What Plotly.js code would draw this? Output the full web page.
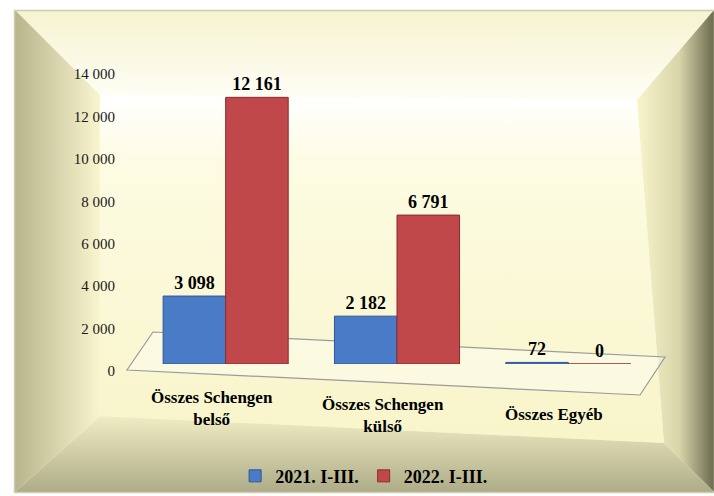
<!DOCTYPE html>
<html><head><meta charset="utf-8">
<script src="https://cdn.plot.ly/plotly-3.0.1.min.js"></script>
<style>
html,body{margin:0;padding:0;background:#fff;}
#wrap{position:relative;width:714px;height:496px;overflow:hidden;}
#bg{position:absolute;left:0;top:0;}
#chart{position:absolute;left:0;top:0;width:714px;height:496px;}
</style>
</head><body>
<div id="wrap">
<svg id="bg" width="714" height="496" xmlns="http://www.w3.org/2000/svg">
<defs>
 <linearGradient id="gL" x1="0" y1="0" x2="1" y2="0"><stop offset="0" stop-color="#b8b48b"/><stop offset="1" stop-color="#f8f5cf"/></linearGradient>
 <linearGradient id="gR" x1="0" y1="0" x2="1" y2="0"><stop offset="0" stop-color="#f8f5cc"/><stop offset="0.55" stop-color="#d8d5aa"/><stop offset="1" stop-color="#6c6a50"/></linearGradient>
 <linearGradient id="gT" x1="0" y1="0" x2="0" y2="1"><stop offset="0" stop-color="#f6f3d0"/><stop offset="1" stop-color="#fffef6"/></linearGradient>
 <linearGradient id="gB" x1="0" y1="0" x2="0" y2="1"><stop offset="0" stop-color="#f0edc4"/><stop offset="1" stop-color="#aeac88"/></linearGradient>
 <linearGradient id="gI" x1="0" y1="0" x2="0" y2="1"><stop offset="0" stop-color="#ffffff"/><stop offset="0.2" stop-color="#fdfbe2"/><stop offset="1" stop-color="#f8f5ca"/></linearGradient>
</defs>
<polygon points="100,95 637,100 664,443 100,416" fill="url(#gI)"/>
<polygon points="15,10 714,10 637,100 100,95" fill="url(#gT)"/>
<polygon points="15,10 100,95 100,416 15,492" fill="url(#gL)"/>
<polygon points="714,10 714,492 664,443 637,100" fill="url(#gR)"/>
<polygon points="15,492 100,416 664,443 714,492" fill="url(#gB)"/>
<rect x="14.5" y="10.5" width="700" height="482" fill="none" stroke="#cfccb0" stroke-width="1.5"/>
<polygon points="153,332 665,357 640,395 127,370" fill="rgba(255,255,255,0.35)" stroke="#9b9b9b" stroke-width="1.2"/>
</svg>
<div id="chart"></div>
</div>
<script>
// ---- data ----
const categories = ["Összes Schengen belső", "Összes Schengen külső", "Összes Egyéb"];
const seriesNames = ["2021. I-III.", "2022. I-III."];
const values2021 = [3098, 2182, 72];
const values2022 = [12161, 6791, 0];
const yTickVals = [0, 2000, 4000, 6000, 8000, 10000, 12000, 14000];

// ---- styling ----
const serif = "'Liberation Serif', 'Times New Roman', serif";
const colors = ["#4a7bc6", "#c0484a"];
const lineColors = ["#2f5597", "#8c2a2a"];
const labelYShift = [-37, -44, -43];

function wrap(label) {
  const i = label.lastIndexOf(" ");
  return label.startsWith("Összes Schengen") ? label.slice(0, i) + "<br>" + label.slice(i + 1) : label;
}

const mk = (name, vals, k) => ({
  type: "bar", name: name, x: categories, y: vals, yaxis: "y",
  marker: {color: colors[k], line: {color: lineColors[k], width: 1}},
  text: vals, texttemplate: "%{y:,d}", textposition: "outside",
  textfont: {family: serif, size: 18, color: "#000", weight: "bold"},
  cliponaxis: false, hoverinfo: "skip"
});

const traces = [
  mk(seriesNames[0], values2021, 0),
  mk(seriesNames[1], values2022, 1),
  {type: "scatter", mode: "markers", x: categories, y: values2022, yaxis: "y2",
   marker: {opacity: 0}, showlegend: false, hoverinfo: "skip"}
];

const annotations = categories.map((c, i) => ({
  x: c, xref: "x", y: 0, yref: "paper", yanchor: "middle", xanchor: "center",
  xshift: -14, yshift: labelYShift[i], showarrow: false,
  text: "<b>" + wrap(c) + "</b>", align: "center",
  font: {family: serif, size: 17, color: "#000"}
}));

const layout = {
  width: 714, height: 496,
  margin: {l: 140, r: 60, t: 57, b: 125, autoexpand: false},
  paper_bgcolor: "rgba(0,0,0,0)", plot_bgcolor: "rgba(0,0,0,0)",
  separators: ", ",
  barmode: "group", bargap: 0.27, bargroupgap: 0,
  showlegend: true,
  legend: {orientation: "h", xref: "container", yref: "container",
           x: 0.51, xanchor: "center", y: 0.04, yanchor: "middle",
           font: {family: serif, size: 18, color: "#000", weight: "bold"},
           bgcolor: "rgba(0,0,0,0)", itemclick: false},
  xaxis: {type: "category", showticklabels: false, showgrid: false, zeroline: false,
          showline: false, ticks: "", anchor: "y", fixedrange: true},
  yaxis: {domain: [0.0223, 1], range: [0, 14000], visible: false, showgrid: false,
          zeroline: false, fixedrange: true},
  yaxis2: {domain: [0, 0.9459], range: [0, 14000], anchor: "x", side: "left",
           tickvals: yTickVals, tickformat: ",d", showgrid: false, zeroline: false,
           showline: false, ticks: "", ticklabelstandoff: 24,
           tickfont: {family: serif, size: 15, color: "#1a1a1a"}, fixedrange: true},
  annotations: annotations,
  font: {family: serif}
};

Plotly.newPlot("chart", traces, layout, {displayModeBar: false, staticPlot: true});
</script>
</body></html>
